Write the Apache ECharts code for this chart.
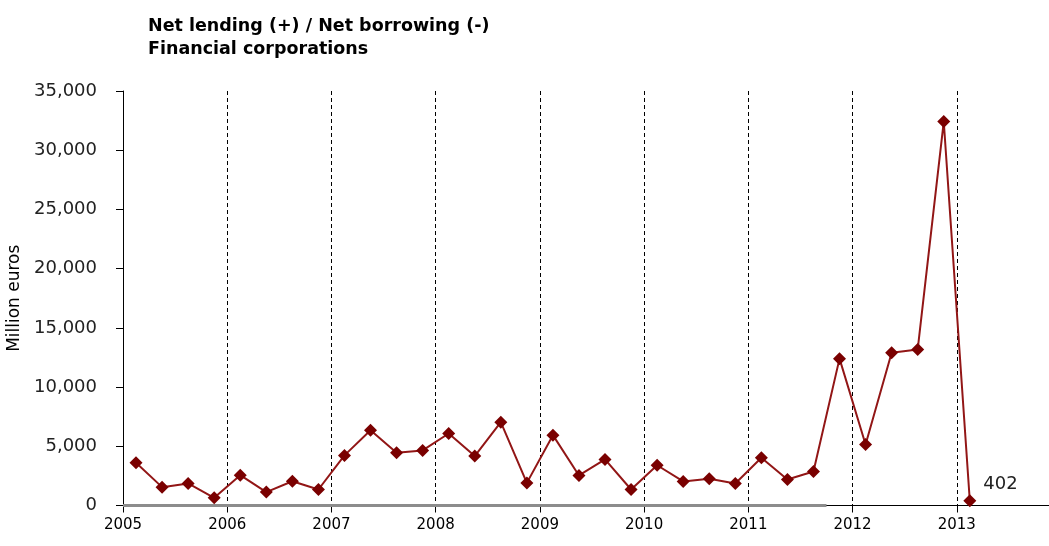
<!DOCTYPE html>
<html>
<head>
<meta charset="utf-8">
<title>Net lending / Net borrowing - Financial corporations</title>
<script src="https://cdn.jsdelivr.net/npm/echarts@6/dist/echarts.min.js"></script>
<style>
  html, body { margin: 0; padding: 0; background: #ffffff; }
  #chart { width: 1049px; height: 546px; }
</style>
</head>
<body>
<div id="chart"></div>
<script>
// Quarterly net lending (+) / net borrowing (-) of financial corporations, million euros
const quarters = [
  '2005Q1','2005Q2','2005Q3','2005Q4',
  '2006Q1','2006Q2','2006Q3','2006Q4',
  '2007Q1','2007Q2','2007Q3','2007Q4',
  '2008Q1','2008Q2','2008Q3','2008Q4',
  '2009Q1','2009Q2','2009Q3','2009Q4',
  '2010Q1','2010Q2','2010Q3','2010Q4',
  '2011Q1','2011Q2','2011Q3','2011Q4',
  '2012Q1','2012Q2','2012Q3','2012Q4',
  '2013Q1'
];
const netLending = [
  3610, 1550, 1860, 650,
  2560, 1130, 2050, 1350,
  4230, 6360, 4450, 4650,
  6080, 4170, 7040, 1910,
  5940, 2540, 3890, 1350,
  3400, 2030, 2260, 1860,
  4030, 2200, 2870, 12400,
  5150, 12900, 13180, 32420,
  402
];
const yearLabels = ['2005','2006','2007','2008','2009','2010','2011','2012','2013'];
const yTicks = [0, 5000, 10000, 15000, 20000, 25000, 30000, 35000];
// grey zero line along the axis, spanning these quarter boundaries
const zeroSpan = [0, 27];

const QPY = 4; // quarters per year
const pointData = netLending.map((v, i) => [i + 0.5, v]);
const zeroData = zeroSpan.map(q => [q, 0]);
const lastIndex = netLending.length - 1;

const fmtThousands = v => String(v).replace(/\B(?=(\d{3})+(?!\d))/g, ',');

const chart = echarts.init(document.getElementById('chart'), null, { renderer: 'canvas' });
chart.setOption({
  backgroundColor: '#ffffff',
  animation: false,
  title: {
    text: 'Net lending (+) / Net borrowing (-)\nFinancial corporations',
    left: 143,
    top: 10,
    textStyle: {
      fontFamily: 'DejaVu Sans',
      fontWeight: 'bold',
      fontSize: 17.5,
      lineHeight: 23,
      color: '#000000'
    }
  },
  grid: {
    left: 123, right: -12, top: 91, bottom: 40.5,
    containLabel: false,
    outerBoundsMode: 'none'
  },
  xAxis: {
    type: 'value',
    min: 0,
    max: yearLabels.length * QPY,
    interval: QPY,
    axisLine: { show: true, onZero: false, lineStyle: { color: '#000000', width: 1 } },
    axisTick: { show: true, inside: false, length: 7, lineStyle: { color: '#000000' } },
    axisLabel: {
      margin: 12,
      fontFamily: 'DejaVu Sans',
      fontSize: 15,
      color: '#000000',
      formatter: v => (v % QPY === 0 && v / QPY < yearLabels.length) ? yearLabels[v / QPY] : ''
    },
    splitLine: {
      show: true,
      showMinLine: false,
      showMaxLine: false,
      lineStyle: { color: '#000000', width: 1, type: [4, 3] }
    }
  },
  yAxis: {
    type: 'value',
    min: yTicks[0],
    max: yTicks[yTicks.length - 1],
    interval: yTicks[1] - yTicks[0],
    name: 'Million euros',
    nameLocation: 'middle',
    nameRotate: 90,
    nameGap: 92,
    nameTextStyle: { fontFamily: 'DejaVu Sans', fontSize: 17, color: '#000000' },
    axisLine: { show: true, lineStyle: { color: '#000000', width: 1 } },
    axisTick: { show: true, inside: false, length: 7, lineStyle: { color: '#000000' } },
    axisLabel: {
      margin: 26,
      fontFamily: 'DejaVu Sans',
      fontSize: 18,
      color: '#222222',
      formatter: v => fmtThousands(v)
    },
    splitLine: { show: false }
  },
  series: [
    {
      name: 'zero',
      type: 'line',
      data: zeroData,
      symbol: 'none',
      silent: true,
      z: 1,
      lineStyle: { color: '#8c8c8c', width: 3 }
    },
    {
      name: 'Net lending (+) / Net borrowing (-)',
      type: 'line',
      data: pointData,
      symbol: 'diamond',
      symbolSize: 13,
      z: 3,
      lineStyle: { color: '#921616', width: 2 },
      itemStyle: { color: '#7a0000' },
      label: {
        show: true,
        formatter: p => (p.dataIndex === lastIndex ? fmtThousands(p.value[1]) : ''),
        position: 'right',
        offset: [2, -16],
        fontFamily: 'DejaVu Sans',
        fontSize: 18,
        color: '#222222'
      }
    }
  ]
});
</script>
</body>
</html>
